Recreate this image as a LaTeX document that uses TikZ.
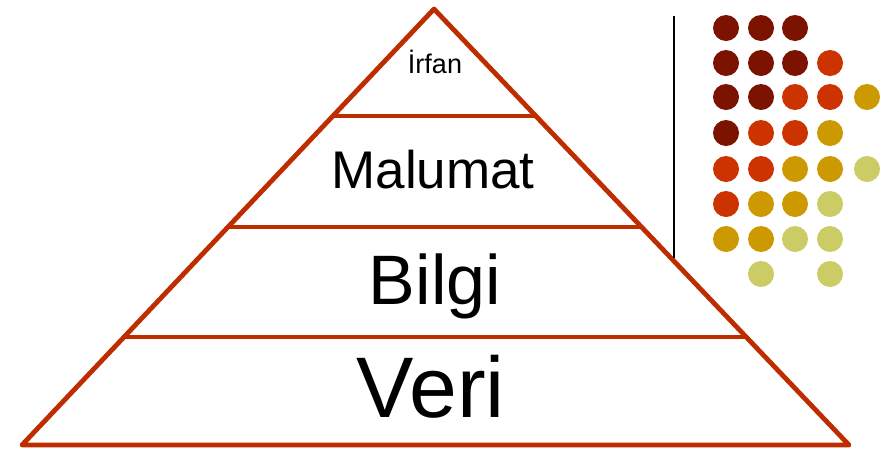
\documentclass[tikz,border=0pt]{standalone}
\usepackage{fontspec}
\setmainfont{Liberation Sans}
\usetikzlibrary{calc}
\definecolor{pyr}{RGB}{190,45,0}
\definecolor{dotA}{RGB}{124,18,0}
\definecolor{dotB}{RGB}{204,51,0}
\definecolor{dotC}{RGB}{204,153,0}
\definecolor{dotD}{RGB}{204,204,102}
\tikzset{
  edge/.style={draw=pyr,line width=4.8pt,line join=round,line cap=round},
  tier/.style={anchor=base,inner sep=0pt,text=black},
  spot/.style={circle,inner sep=0pt,minimum size=26pt}
}
\begin{document}
\begin{tikzpicture}[x=1pt,y=-1pt]
\useasboundingbox (0,0) rectangle (887,451);
% pyramid outline
\coordinate (apex) at (434,9);
\coordinate (bl) at (22,445);
\coordinate (br) at (849,445);
\draw[edge] (bl) -- (apex) -- (br) -- cycle;
% tier dividers
\coordinate (l1) at ($(apex)!0.2454!(bl)$);
\coordinate (r1) at ($(apex)!0.2454!(br)$);
\coordinate (l2) at ($(apex)!0.5!(bl)$);
\coordinate (r2) at ($(apex)!0.5!(br)$);
\coordinate (l3) at ($(apex)!0.7523!(bl)$);
\coordinate (r3) at ($(apex)!0.7523!(br)$);
\draw[edge] (l1) -- (r1);
\draw[edge] (l2) -- (r2);
\draw[edge] (l3) -- (r3);
% tier labels
\node[tier,font=\fontsize{27}{27}\selectfont] (irfan) at (435,73) {İrfan};
\node[tier,font=\fontsize{53}{53}\selectfont] (malumat) at (433,188) {Malumat};
\node[tier,font=\fontsize{70}{70}\selectfont] (bilgi) at (435,304) {Bilgi};
\node[tier,font=\fontsize{86}{86}\selectfont] (veri) at (431,417) {Veri};
% separator
\coordinate (s1) at (674,16);
\coordinate (s2) at (674,258);
\draw[line width=1.5pt] (s1) -- (s2);
% dot grid
\foreach \c/\x/\y [count=\i] in {
  dotA/726/28, dotA/761/28, dotA/795/28,
  dotA/726/63, dotA/761/63, dotA/795/63, dotB/830/63,
  dotA/726/97, dotA/761/97, dotB/795/97, dotB/830/97, dotC/867/97,
  dotA/726/133, dotB/761/133, dotB/795/133, dotC/830/133,
  dotB/726/169, dotB/761/169, dotC/795/169, dotC/830/169, dotD/867/169,
  dotB/726/204, dotC/761/204, dotC/795/204, dotD/830/204,
  dotC/726/239, dotC/761/239, dotD/795/239, dotD/830/239,
  dotD/761/274, dotD/830/274}
  \node[spot,fill=\c] (d\i) at (\x,\y) {};
\end{tikzpicture}
\end{document}
